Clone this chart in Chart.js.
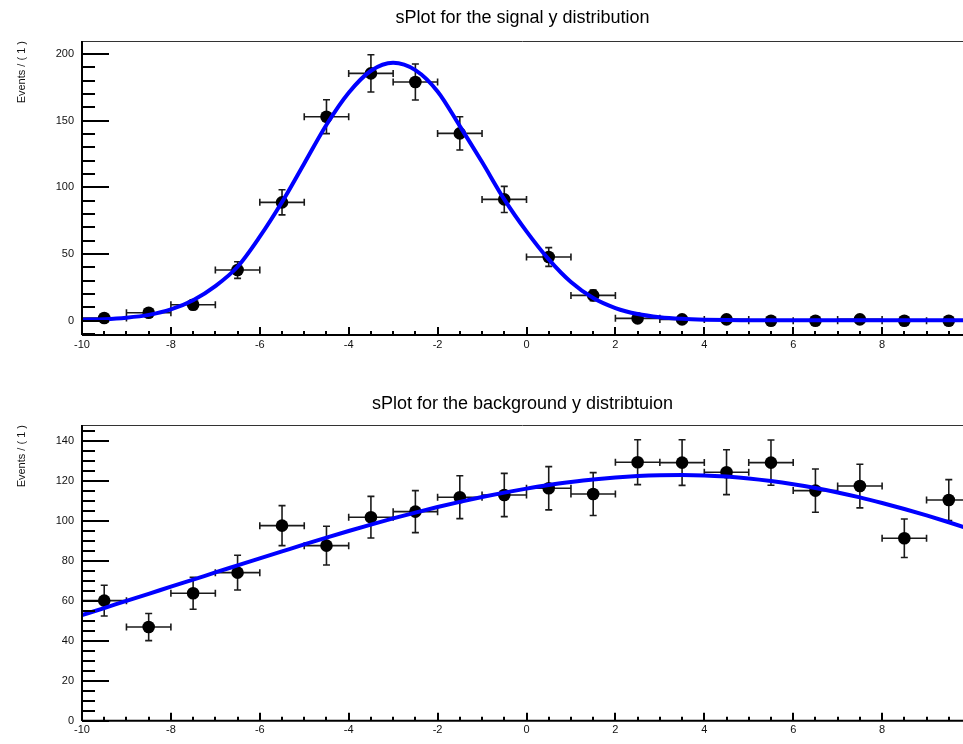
<!DOCTYPE html>
<html>
<head>
<meta charset="utf-8">
<script src="https://cdn.jsdelivr.net/npm/chart.js@4/dist/chart.umd.min.js"></script>
<style>
  html, body { margin: 0; padding: 0; background: #fff; overflow: hidden; }
  .pad { position: absolute; left: 0; width: 963px; height: 372px; }
  #padTop { top: 0; }
  #padBottom { top: 372px; }
</style>
</head>
<body>
<div class="pad" id="padTop"><canvas id="sigChart" width="963" height="372"></canvas></div>
<div class="pad" id="padBottom"><canvas id="bkgChart" width="963" height="372"></canvas></div>

<script>
/* ─── data ─── */
const binCenters = [-9.5, -8.5, -7.5, -6.5, -5.5, -4.5, -3.5, -2.5, -1.5, -0.5,
                    0.5, 1.5, 2.5, 3.5, 4.5, 5.5, 6.5, 7.5, 8.5, 9.5];
const binHalfWidth = 0.5;

const sigCounts = [2, 6, 12, 38, 88.8, 153, 185.5, 179, 140.5, 91,
                   47.8, 19, 1.8, 1, 1, 0, 0, 1, 0, 0];
const sigErrors = [1.5, 2.5, 3.5, 6.2, 9.4, 12.7, 14, 13.5, 12.5, 9.8,
                   7, 4, 1, 0.8, 0.8, 0.5, 0.5, 0.8, 0.5, 0.5];

const bkgCounts = [60, 46.8, 63.7, 74, 97.5, 87.5, 101.7, 104.5, 111.7, 112.8,
                   116.2, 113.3, 129.2, 129, 124.2, 129, 115, 117.3, 91.2, 110.3];
const bkgErrors = [7.7, 6.8, 8, 8.7, 10, 9.7, 10.4, 10.5, 10.7, 10.8,
                   10.8, 10.7, 11.2, 11.4, 11.2, 11.3, 10.8, 10.9, 9.6, 10.2];

/* fitted curves, sampled every 0.5 */
const curveX = [-10, -9.5, -9, -8.5, -8, -7.5, -7, -6.5, -6, -5.5, -5, -4.5, -4, -3.5,
                -3, -2.5, -2, -1.5, -1, -0.5, 0, 0.5, 1, 1.5, 2, 2.5, 3, 3.5, 4,
                4.5, 5, 5.5, 6, 6.5, 7, 7.5, 8, 8.5, 9, 9.5, 10];
const sigCurve = [0.8, 1.2, 2.3, 4.4, 8.5, 15.4, 26, 40.5, 63, 89, 118, 147, 171, 187.5,
                  193.5, 188, 172, 146, 119, 91, 67, 46, 29, 17, 9.5, 5, 2.6, 1.4, 0.8,
                  0.5, 0.4, 0.3, 0.3, 0.3, 0.3, 0.3, 0.3, 0.3, 0.3, 0.3, 0.3];
const bkgCurve = [52.8, 56.3, 59.9, 63.4, 67, 70.5, 74.1, 77.6, 81.1, 84.6, 88.1, 91.5, 94.8, 98,
                  101.1, 104, 106.8, 109.4, 111.8, 114, 116, 117.8, 119.3, 120.6, 121.6, 122.3, 122.7, 122.8, 122.6,
                  122, 121.1, 119.8, 118.2, 116.3, 114.1, 111.6, 108.8, 105.8, 102.6, 99.2, 95.6];

/* axis ticks */
const xTickLabels = [-10, -8, -6, -4, -2, 0, 2, 4, 6, 8];
const sigYTicks = [0, 50, 100, 150, 200];
const bkgYTicks = [0, 20, 40, 60, 80, 100, 120, 140];

const FONT = '"Liberation Sans", Helvetica, Arial, sans-serif';

/* ── ROOT-like frame with inward major/minor ticks ── */
const rootFrame = {
  id: 'rootFrame',
  afterDatasetsDraw(chart, args, opts) {
    const { ctx, chartArea: a, scales: { x, y } } = chart;
    ctx.save();

    ctx.strokeStyle = '#333';
    ctx.lineWidth = 1;
    ctx.beginPath();
    ctx.moveTo(a.left, a.top + 0.5);
    ctx.lineTo(a.right, a.top + 0.5);
    ctx.stroke();

    ctx.strokeStyle = '#000';
    ctx.lineWidth = 2;
    ctx.beginPath();
    // y ticks
    for (let i = 0; ; i++) {
      const v = opts.yMinorFrom + i * opts.yMinorStep;
      if (v > y.max) break;
      if (v < y.min) continue;
      const py = Math.round(y.getPixelForValue(v));
      const len = opts.yMajor.includes(v) ? 27 : 13;
      ctx.moveTo(a.left, py);
      ctx.lineTo(a.left + len, py);
    }
    // x ticks
    for (let i = 0; ; i++) {
      const v = -10 + i * 0.5;
      if (v > x.max) break;
      const px = Math.round(x.getPixelForValue(v));
      const len = xTickLabels.includes(v) ? 8 : 4;
      ctx.moveTo(px, a.bottom);
      ctx.lineTo(px, a.bottom - len);
    }
    ctx.stroke();

    // axis lines
    ctx.beginPath();
    ctx.moveTo(a.left, a.top);
    ctx.lineTo(a.left, a.bottom);
    ctx.moveTo(a.left, a.bottom);
    ctx.lineTo(a.right, a.bottom);
    ctx.stroke();
    ctx.restore();
  }
};

/* ── error bars with end caps ── */
const errorBars = {
  id: 'errorBars',
  beforeDatasetsDraw(chart, args, opts) {
    const { ctx, chartArea: a, scales: { x, y } } = chart;
    const cap = 3.5;
    ctx.save();
    ctx.beginPath();
    ctx.rect(a.left, a.top, a.right - a.left, a.bottom - a.top);
    ctx.clip();
    ctx.strokeStyle = '#1a1a1a';
    ctx.lineWidth = 1.6;
    ctx.beginPath();
    binCenters.forEach((c, i) => {
      const px = x.getPixelForValue(c);
      const py = y.getPixelForValue(opts.values[i]);
      const x0 = x.getPixelForValue(c - binHalfWidth);
      const x1 = x.getPixelForValue(c + binHalfWidth);
      const y0 = y.getPixelForValue(opts.values[i] - opts.errors[i]);
      const y1 = y.getPixelForValue(opts.values[i] + opts.errors[i]);
      ctx.moveTo(x0, py); ctx.lineTo(x1, py);
      ctx.moveTo(x0, py - cap); ctx.lineTo(x0, py + cap);
      ctx.moveTo(x1, py - cap); ctx.lineTo(x1, py + cap);
      ctx.moveTo(px, y0); ctx.lineTo(px, y1);
      ctx.moveTo(px - cap, y0); ctx.lineTo(px + cap, y0);
      ctx.moveTo(px - cap, y1); ctx.lineTo(px + cap, y1);
    });
    ctx.stroke();
    ctx.restore();
  }
};

function makeChart(id, cfg) {
  const ctx = document.getElementById(id).getContext('2d');
  return new Chart(ctx, {
    type: 'scatter',
    data: {
      datasets: [
        {
          label: 'fit',
          data: curveX.map((v, i) => ({ x: v, y: cfg.curve[i] })),
          showLine: true,
          borderColor: '#0000ff',
          borderWidth: 4,
          pointRadius: 0,
          cubicInterpolationMode: 'monotone',
          fill: false
        },
        {
          label: 'data',
          data: binCenters.map((v, i) => ({ x: v, y: cfg.values[i] })),
          showLine: false,
          pointRadius: 6.3,
          pointBackgroundColor: '#000',
          pointBorderColor: '#000',
          pointBorderWidth: 0
        }
      ]
    },
    options: {
      responsive: false,
      animation: false,
      devicePixelRatio: 1,
      layout: { padding: 0, autoPadding: false },
      plugins: {
        legend: { display: false },
        tooltip: { enabled: false },
        title: {
          display: true,
          fullSize: false,
          text: cfg.title,
          color: '#000',
          font: { family: FONT, size: 18, weight: 'normal', lineHeight: 1.2 },
          padding: cfg.titlePad
        },
        rootFrame: { yMajor: cfg.yTicks, yMinorFrom: cfg.yMinorFrom, yMinorStep: cfg.yMinorStep },
        errorBars: { values: cfg.values, errors: cfg.errors }
      },
      scales: {
        x: {
          type: 'linear',
          min: -10,
          max: 9.82,
          grid: { display: false, drawTicks: false },
          border: { display: false },
          afterBuildTicks: s => { s.ticks = xTickLabels.map(v => ({ value: v })); },
          afterFit: s => { s.height = cfg.xHeight; },
          ticks: { color: '#111', font: { family: FONT, size: 11 }, padding: 3, maxRotation: 0 }
        },
        y: {
          type: 'linear',
          min: cfg.yMin,
          max: cfg.yMax,
          grid: { display: false, drawTicks: false },
          border: { display: false },
          afterBuildTicks: s => { s.ticks = cfg.yTicks.map(v => ({ value: v })); },
          afterFit: s => { s.width = 82; },
          ticks: { color: '#111', font: { family: FONT, size: 11 }, padding: 8 },
          title: {
            display: true,
            text: 'Events / ( 1 )',
            align: 'end',
            color: '#111',
            font: { family: FONT, size: 11, lineHeight: 1.2 },
            padding: { top: 15.4, bottom: 0 }
          }
        }
      }
    },
    plugins: [errorBars, rootFrame]
  });
}

document.addEventListener('DOMContentLoaded', () => {
  makeChart('sigChart', {
    title: 'sPlot for the signal y distribution',
    titlePad: { top: 7.2, bottom: 12.2 },
    curve: sigCurve,
    values: sigCounts,
    errors: sigErrors,
    yMin: -10.7,
    yMax: 209.8,
    yTicks: sigYTicks,
    yMinorFrom: -10,
    yMinorStep: 10,
    xHeight: 37
  });
  makeChart('bkgChart', {
    title: 'sPlot for the background y distribtuion',
    titlePad: { top: 21.2, bottom: 10.2 },
    curve: bkgCurve,
    values: bkgCounts,
    errors: bkgErrors,
    yMin: 0,
    yMax: 147.8,
    yTicks: bkgYTicks,
    yMinorFrom: 0,
    yMinorStep: 5,
    xHeight: 23.3
  });
});
</script>
</body>
</html>
